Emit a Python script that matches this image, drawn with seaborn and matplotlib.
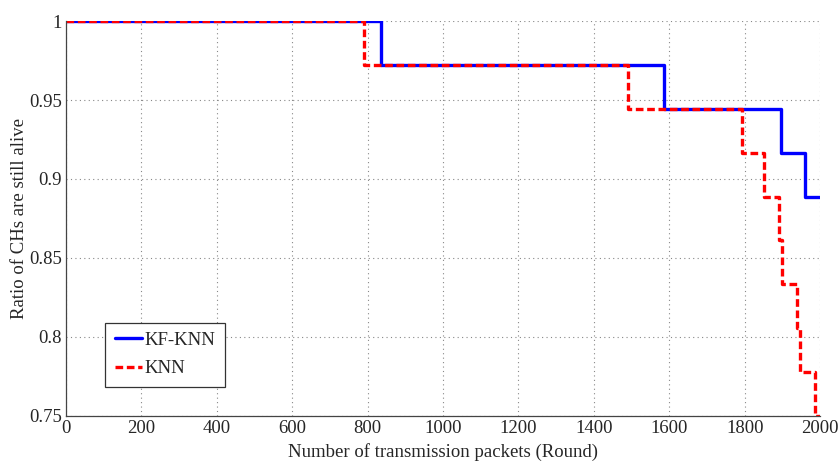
import numpy as np
import pandas as pd
import matplotlib
matplotlib.use("Agg")
import matplotlib.pyplot as plt
from matplotlib.ticker import FuncFormatter
import seaborn as sns

# step points (round, ratio of CHs alive)
kf_knn_rounds = [0, 835, 1587, 1896, 1960, 2000]
kf_knn_alive = [1.0, 0.9722, 0.9444, 0.9167, 0.8889, 0.8889]

knn_rounds = [0, 790, 1490, 1793, 1851, 1892, 1900, 1940, 1947, 1987, 2000]
knn_alive = [1.0, 0.9722, 0.9444, 0.9167, 0.8889, 0.8611, 0.8333, 0.8056, 0.7778, 0.75, 0.75]

x_ticks = np.arange(0, 2001, 200)
y_ticks = [0.75, 0.8, 0.85, 0.9, 0.95, 1.0]

sns.set_style("white")
plt.rcParams['font.family'] = ['Liberation Serif', 'DejaVu Serif']

fig = plt.figure(figsize=(8.38, 4.71), dpi=100)
ax = fig.add_axes([0.0788, 0.1168, 0.8998, 0.8386])

df_kf = pd.DataFrame({'round': kf_knn_rounds, 'alive': kf_knn_alive})
df_knn = pd.DataFrame({'round': knn_rounds, 'alive': knn_alive})

sns.lineplot(data=df_kf, x='round', y='alive', ax=ax, color='#0000ff', linewidth=2.4,
             drawstyle='steps-post', estimator=None, sort=False, label='KF-KNN')
sns.lineplot(data=df_knn, x='round', y='alive', ax=ax, color='#ff0000', linewidth=2.4,
             linestyle=(0, (2.3, 1.1)), drawstyle='steps-post', estimator=None, sort=False, label='KNN')

ax.set_xlim(0, 2000)
ax.set_ylim(0.75, 1.0)
ax.set_xticks(x_ticks)
ax.set_yticks(y_ticks)
ax.yaxis.set_major_formatter(FuncFormatter(lambda v, p: f"{v:g}"))
ax.grid(True, color='#888888', linestyle=(0, (1, 3)), linewidth=0.8)
ax.tick_params(direction='in', length=4, labelsize=13.5, color='#555555', pad=3)

for side in ['top', 'right']:
    ax.spines[side].set_visible(False)
for side in ['left', 'bottom']:
    ax.spines[side].set_color('#444444')
    ax.spines[side].set_linewidth(0.9)

ax.set_xlabel('Number of transmission packets (Round)', fontsize=13.5, labelpad=4)
ax.set_ylabel('Ratio of CHs are still alive', fontsize=13.5)
ax.yaxis.set_label_coords(-0.05, 0.5)

leg = ax.legend(loc='lower left', bbox_to_anchor=(0.052, 0.074), fontsize=13.5, handlelength=1.45,
                handletextpad=0.15, borderpad=0.5, labelspacing=0.6, borderaxespad=0,
                fancybox=False, framealpha=1)
leg.get_frame().set_edgecolor('#333333')
leg.get_frame().set_linewidth(0.9)

fig.savefig('out.png', dpi=100)
